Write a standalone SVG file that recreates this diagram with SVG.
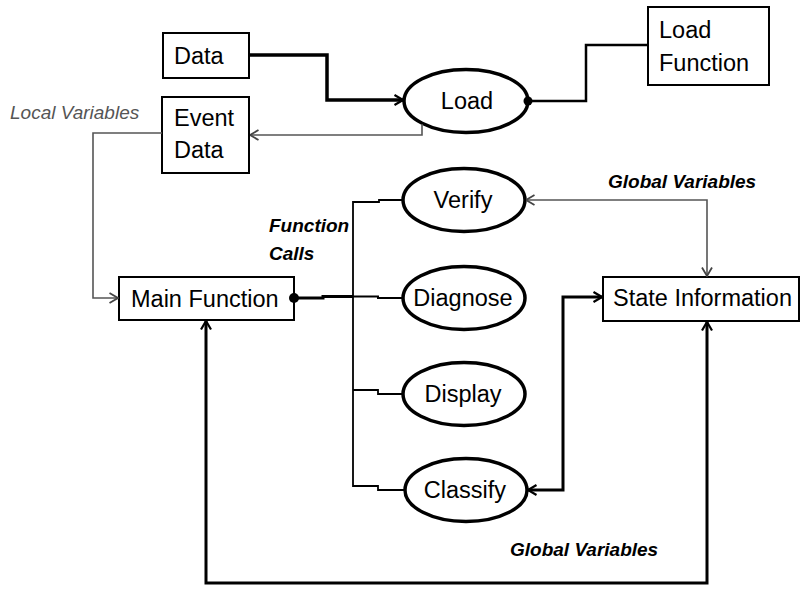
<svg xmlns="http://www.w3.org/2000/svg" width="801" height="598" viewBox="0 0 801 598">
  <defs>
    <style>
      .box { fill: #fff; stroke: #000; stroke-width: 2; }
      .proc { fill: #fff; stroke: #000; stroke-width: 3.5; }
      .lbl { font-family: "Liberation Sans", Arial, sans-serif; font-size: 23.5px; fill: #000; }
      .mid { text-anchor: middle; }
      .note { font-family: "Liberation Sans", Arial, sans-serif; font-size: 19px; font-style: italic; font-weight: bold; fill: #000; }
      .note-gray { font-family: "Liberation Sans", Arial, sans-serif; font-size: 19px; font-style: italic; fill: #555; }
      .wire { fill: none; stroke: #000; stroke-linejoin: miter; }
      .thin-gray { fill: none; stroke: #555; stroke-width: 1.6; }
    </style>
    <marker id="arrow-black" viewBox="0 0 10 12" refX="9.5" refY="6" markerWidth="10" markerHeight="12" markerUnits="userSpaceOnUse" orient="auto-start-reverse">
      <path d="M1,1 L9.5,6 L1,11" fill="none" stroke="#000" stroke-width="2.2"/>
    </marker>
    <marker id="arrow-gray" viewBox="0 0 10 12" refX="9.5" refY="6" markerWidth="10" markerHeight="12" markerUnits="userSpaceOnUse" orient="auto-start-reverse">
      <path d="M1,1 L9.5,6 L1,11" fill="none" stroke="#444" stroke-width="1.8"/>
    </marker>
  </defs>

  <rect width="801" height="598" fill="#fff"/>

  <!-- nodes -->
  <g id="data">
    <rect class="box" x="163" y="33" width="86" height="45"/>
    <text class="lbl" x="174" y="64">Data</text>
  </g>
  <g id="event-data">
    <rect class="box" x="162" y="97" width="87" height="76"/>
    <text class="lbl" x="174" y="126">Event</text>
    <text class="lbl" x="174" y="158">Data</text>
  </g>
  <g id="load">
    <ellipse class="proc" cx="466" cy="101" rx="62" ry="31.5"/>
    <text class="lbl mid" x="467" y="109">Load</text>
  </g>
  <g id="load-function">
    <rect class="box" x="648" y="7" width="121" height="78"/>
    <text class="lbl" x="659" y="38">Load</text>
    <text class="lbl" x="659" y="71">Function</text>
  </g>
  <g id="main-function">
    <rect class="box" x="119" y="277" width="175" height="43"/>
    <text class="lbl" x="131" y="307">Main Function</text>
  </g>
  <g id="verify">
    <ellipse class="proc" cx="464" cy="200" rx="61" ry="31.5"/>
    <text class="lbl mid" x="463" y="208">Verify</text>
  </g>
  <g id="diagnose">
    <ellipse class="proc" cx="464" cy="298" rx="61" ry="31.5"/>
    <text class="lbl mid" x="463" y="306">Diagnose</text>
  </g>
  <g id="display">
    <ellipse class="proc" cx="464" cy="394" rx="61" ry="31.5"/>
    <text class="lbl mid" x="463" y="402">Display</text>
  </g>
  <g id="classify">
    <ellipse class="proc" cx="466" cy="490" rx="61" ry="31.5"/>
    <text class="lbl mid" x="465" y="498">Classify</text>
  </g>
  <g id="state-information">
    <rect class="box" x="603" y="277" width="196" height="44"/>
    <text class="lbl" x="613" y="306">State Information</text>
  </g>

  <!-- connectors -->
  <g id="connectors">
    <!-- Data to Load -->
    <path class="wire" stroke-width="3.5" d="M249,55 H327 V100 H403" marker-end="url(#arrow-black)"/>
    <!-- Load to Load Function -->
    <path class="wire" stroke-width="2.5" d="M528,101 H586 V45 H648"/>
    <circle cx="528" cy="101" r="4.5" fill="#000"/>
    <!-- Load to Event Data (local variables) -->
    <path class="thin-gray" d="M422,124 V135 H250" marker-end="url(#arrow-gray)"/>
    <!-- Event Data to Main Function -->
    <path class="thin-gray" d="M162,133 H93 V298 H118" marker-end="url(#arrow-gray)"/>
    <!-- Main Function to function-call bus -->
    <path class="wire" stroke-width="3" d="M294,298 H323 V296.5 H353"/>
    <path class="wire" stroke-width="2" d="M353,296.5 H378 V298 H403"/>
    <circle cx="294" cy="298" r="5" fill="#000"/>
    <!-- bus with branches to Verify, Display, Classify -->
    <path class="wire" stroke-width="1.8" d="M403,200 H379 V202 H353 V486 H378 V490 H405"/>
    <path class="wire" stroke-width="1.8" d="M353,390 H378 V394 H403"/>
    <!-- Verify to State Information (global variables) -->
    <path class="thin-gray" d="M526,200 H707 V276" marker-start="url(#arrow-gray)" marker-end="url(#arrow-gray)"/>
    <!-- Classify to State Information -->
    <path class="wire" stroke-width="3" d="M528,490 H563 V297 H602" marker-start="url(#arrow-black)" marker-end="url(#arrow-black)"/>
    <!-- Main Function to State Information (global variables) -->
    <path class="wire" stroke-width="3" d="M206,321 V583 H707 V322" marker-start="url(#arrow-black)" marker-end="url(#arrow-black)"/>
  </g>

  <!-- connector labels -->
  <text class="note-gray" x="10" y="119">Local Variables</text>
  <text class="note" x="269" y="232">Function</text>
  <text class="note" x="269" y="260">Calls</text>
  <text class="note" x="608" y="188">Global Variables</text>
  <text class="note" x="510" y="556">Global Variables</text>
</svg>
